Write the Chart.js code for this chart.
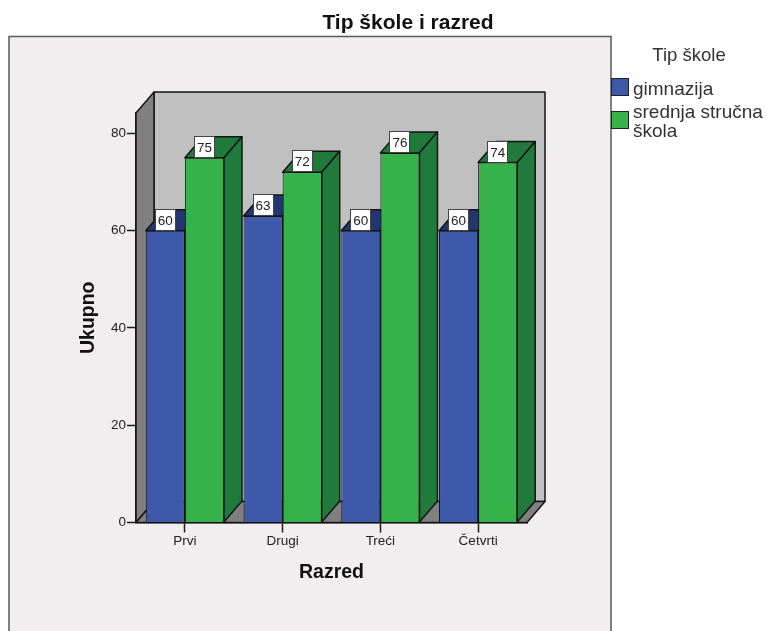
<!DOCTYPE html>
<html>
<head>
<meta charset="utf-8">
<title>Tip škole i razred</title>
<style>
  html, body { margin: 0; background: #fff; overflow: hidden; }
  #wrap { width: 767px; height: 631px; }
</style>
<script src="https://cdn.jsdelivr.net/npm/chart.js@4/dist/chart.umd.min.js"></script>
</head>
<body>
<div id="wrap"><canvas id="chart" width="767" height="631"></canvas></div>
<script>
const categories = ['Prvi', 'Drugi', 'Treći', 'Četvrti'];
const gimnazija = [60, 63, 60, 60];
const strucna = [75, 72, 76, 74];
const yTicks = [0, 20, 40, 60, 80];
const gimnaLabel = 'gimnazija';

const FONT = '"Liberation Sans", Arial, sans-serif';
const INK = '#1c1c1c';
// how far the fake 3D box goes back, in pixels
const DEPTH_X = 18;
const DEPTH_Y = 21;

function poly(ctx, pts, fill) {
  ctx.beginPath();
  pts.forEach((p, i) => i ? ctx.lineTo(p[0], p[1]) : ctx.moveTo(p[0], p[1]));
  ctx.closePath();
  ctx.fillStyle = fill;
  ctx.fill();
  ctx.stroke();
}

const panel3d = {
  id: 'panel3d',
  beforeDraw(chart) {
    const ctx = chart.ctx;
    ctx.save();
    // outer frame, runs off the bottom of the picture
    ctx.fillStyle = '#f0eeee';
    ctx.strokeStyle = '#5a5a5a';
    ctx.lineWidth = 1.5;
    ctx.fillRect(9, 36.5, 602, 610);
    ctx.strokeRect(9, 36.5, 602, 610);

    // title and legend text
    ctx.fillStyle = '#111';
    ctx.textAlign = 'center';
    ctx.textBaseline = 'middle';
    ctx.font = 'bold 21px ' + FONT;
    ctx.fillText('Tip škole i razred', 408, 23);
    ctx.fillStyle = '#333';
    ctx.font = '18.5px ' + FONT;
    ctx.fillText('Tip škole', 689, 56);
    ctx.restore();
  },
  beforeDatasetsDraw(chart) {
    const ctx = chart.ctx;
    const { left, right, top, bottom } = chart.chartArea;
    const dx = DEPTH_X, dy = DEPTH_Y;
    ctx.save();
    ctx.strokeStyle = '#141414';
    ctx.lineWidth = 1.5;
    ctx.lineJoin = 'round';
    poly(ctx, [[left + dx, top - dy], [right + dx, top - dy], [right + dx, bottom - dy], [left + dx, bottom - dy]], '#c0c0c0');
    poly(ctx, [[left, top], [left + dx, top - dy], [left + dx, bottom - dy], [left, bottom]], '#808080');
    poly(ctx, [[left, bottom], [left + dx, bottom - dy], [right + dx, bottom - dy], [right, bottom]], '#808080');

    // top and side faces go under the native bar fronts
    chart.data.datasets.forEach((ds, i) => {
      chart.getDatasetMeta(i).data.forEach(bar => {
        const x0 = bar.x - bar.width / 2, x1 = bar.x + bar.width / 2;
        poly(ctx, [[x0, bar.y], [x0 + dx, bar.y - dy], [x1 + dx, bar.y - dy], [x1, bar.y]], ds.depthColor);
        poly(ctx, [[x1, bar.y], [x1 + dx, bar.y - dy], [x1 + dx, bar.base - dy], [x1, bar.base]], ds.depthColor);
      });
    });
    ctx.restore();
  },
  afterDatasetsDraw(chart) {
    const ctx = chart.ctx;
    ctx.save();
    // value labels sit on the front top edge of each bar
    ctx.font = '13.5px ' + FONT;
    ctx.textAlign = 'center';
    ctx.textBaseline = 'middle';
    chart.data.datasets.forEach((ds, i) => {
      chart.getDatasetMeta(i).data.forEach((bar, j) => {
        const bx = Math.round(bar.x - 10.5), by = Math.round(bar.y - 22);
        ctx.fillStyle = '#fff';
        ctx.strokeStyle = '#444';
        ctx.lineWidth = 1;
        ctx.fillRect(bx, by, 21, 22);
        ctx.strokeRect(bx + 0.5, by + 0.5, 20, 21);
        ctx.fillStyle = '#222';
        ctx.fillText(ds.data[j], bar.x, by + 12);
      });
    });

    // legend
    ctx.strokeStyle = '#222';
    ctx.lineWidth = 1;
    ctx.textAlign = 'left';
    ctx.font = '19px ' + FONT;
    const rows = [
      { y: 78, lines: [[gimnaLabel, 90]] },
      { y: 111, lines: [['srednja stručna', 113], ['škola', 132]] }
    ];
    rows.forEach((row, i) => {
      ctx.fillStyle = chart.data.datasets[i].backgroundColor;
      ctx.fillRect(611, row.y, 18, 18);
      ctx.strokeRect(611.5, row.y + 0.5, 17, 17);
      ctx.fillStyle = '#333';
      row.lines.forEach(l => ctx.fillText(l[0], 633, l[1]));
    });
    ctx.restore();
  }
};

new Chart(document.getElementById('chart'), {
  type: 'bar',
  plugins: [panel3d],
  data: {
    labels: categories,
    datasets: [
      { label: gimnaLabel, data: gimnazija, backgroundColor: '#3e58aa', depthColor: '#24366f', borderColor: '#141414', borderWidth: 1 },
      { label: 'srednja stručna škola', data: strucna, backgroundColor: '#35b34a', depthColor: '#1f7a3c', borderColor: '#141414', borderWidth: 1 }
    ]
  },
  options: {
    responsive: false,
    animation: false,
    layout: { padding: { top: 113, right: 240, left: 0, bottom: 0 } },
    datasets: { bar: { categoryPercentage: 0.8, barPercentage: 1 } },
    plugins: {
      legend: { display: false },
      title: { display: false },
      tooltip: { enabled: false }
    },
    scales: {
      x: {
        afterFit(scale) { scale.height = 108.5; },
        grid: { offset: false, drawOnChartArea: false, tickLength: 10, tickColor: INK, tickWidth: 1.5 },
        border: { color: INK, width: 1.5 },
        ticks: { color: '#222', padding: 1, maxRotation: 0, font: { family: FONT, size: 13.5 } },
        title: {
          display: true,
          text: 'Razred',
          color: '#111',
          font: { family: FONT, size: 19.5, weight: 'bold' },
          padding: { top: 10, bottom: 47 }
        }
      },
      y: {
        min: 0,
        max: 84.2,
        afterFit(scale) { scale.width = 136; },
        afterBuildTicks(scale) { scale.ticks = yTicks.map(v => ({ value: v })); },
        grid: { drawOnChartArea: false, tickLength: 9, tickColor: INK, tickWidth: 1.5 },
        border: { color: INK, width: 1.5 },
        ticks: { color: '#222', padding: 1, font: { family: FONT, size: 13.5 } },
        title: {
          display: true,
          text: 'Ukupno',
          color: '#111',
          font: { family: FONT, size: 19.5, weight: 'bold' },
          padding: { top: 77, bottom: 4 }
        }
      }
    }
  }
});
</script>
</body>
</html>
